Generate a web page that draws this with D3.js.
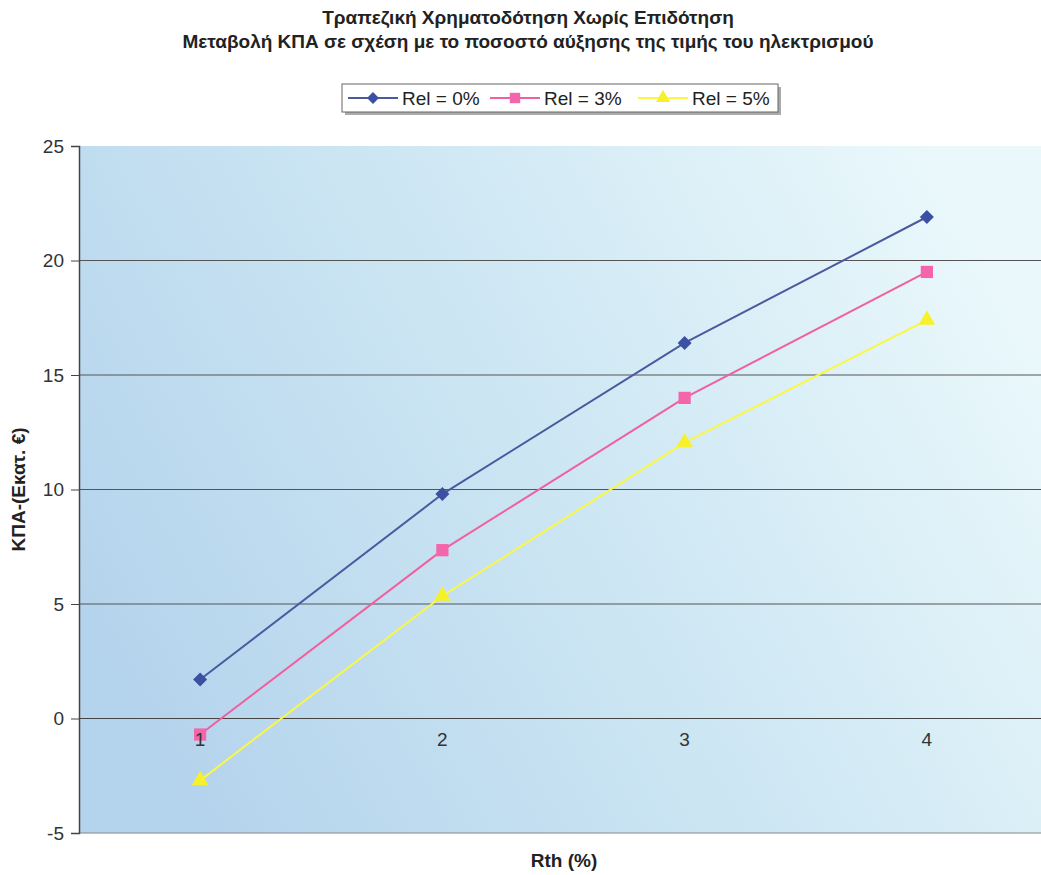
<!DOCTYPE html>
<html><head><meta charset="utf-8">
<script src="https://cdn.jsdelivr.net/npm/d3@7"></script>
<style>body{margin:0;background:#fff;} svg{display:block;font-family:"Liberation Sans",Arial,sans-serif;}</style>
</head><body>
<script>
const categories = ["1","2","3","4"];
const seriesNames = ["Rel = 0%","Rel = 3%","Rel = 5%"];
const rel0 = [1.7, 9.8, 16.4, 21.9];
const rel3 = [-0.7, 7.35, 14.0, 19.5];
const rel5 = [-2.7, 5.35, 12.05, 17.4];
const yTicks = [-5,0,5,10,15,20,25];
const titleLines = ["Τραπεζική Χρηματοδότηση Χωρίς Επιδότηση","Μεταβολή ΚΠΑ σε σχέση με το ποσοστό αύξησης της τιμής του ηλεκτρισμού"];
const yTitle = "ΚΠΑ-(Εκατ. €)";
const xTitle = "Rth (%)";

const W=1041,H=875;
const m={left:79,top:146,right:-7,bottom:42};
const svg=d3.select("body").append("svg").attr("width",W).attr("height",H);
const defs=svg.append("defs");
const g1=defs.append("linearGradient").attr("id","bg").attr("x1","0").attr("y1","0.7").attr("x2","1").attr("y2","0.3");
g1.append("stop").attr("offset","0").attr("stop-color","#b4d3ec");
g1.append("stop").attr("offset","0.55").attr("stop-color","#cfe8f4");
g1.append("stop").attr("offset","1").attr("stop-color","#eaf8fb");

const x=d3.scaleBand().domain(categories).range([m.left,W-m.right]);
const y=d3.scaleLinear().domain([-5,25]).range([H-m.bottom,m.top]);

svg.append("rect").attr("x",m.left).attr("y",m.top).attr("width",W-m.right-m.left).attr("height",y(-5)-m.top).attr("fill","url(#bg)");

// grid
svg.append("g").selectAll("line").data(yTicks.filter(d=>d>-5&&d<25)).join("line")
  .attr("x1",m.left).attr("x2",W).attr("y1",d=>y(d)).attr("y2",d=>y(d))
  .attr("stroke",d=>d===0?"#444":"#555").attr("stroke-width",1.2);
svg.append("line").attr("x1",m.left).attr("x2",W).attr("y1",y(-5)).attr("y2",y(-5)).attr("stroke","#888").attr("stroke-width",1);

// y axis
const ya=svg.append("g").attr("transform",`translate(${m.left},0)`)
  .call(d3.axisLeft(y).tickValues(yTicks).tickSize(8).tickPadding(7).tickFormat(d=>String(d)));
ya.select(".domain").attr("stroke","#444").attr("stroke-width",1.5);
ya.selectAll(".tick line").attr("stroke","#444");
ya.selectAll("text").attr("font-size",19).attr("fill","#333");

const series=[
  {name:seriesNames[0],vals:rel0,line:"#4b5a9e",mk:"#3b50a3",shape:"diamond",size:14},
  {name:seriesNames[1],vals:rel3,line:"#f0609e",mk:"#f466ac",shape:d3.symbolSquare,size:150},
  {name:seriesNames[2],vals:rel5,line:"#fbf742",mk:"#f6f12a",shape:d3.symbolTriangle,size:120}
];
function mark(s,scale){
  if(s.shape==="diamond"){const r=s.size/2*scale;return `M0,${-r}L${r},0L0,${r}L${-r},0Z`;}
  return d3.symbol().type(s.shape).size(s.size*scale*scale)();
}
const lineGen=d3.line().x((d,i)=>x(categories[i])+x.bandwidth()/2).y(d=>y(d));
series.forEach(s=>{
  svg.append("path").datum(s.vals).attr("d",lineGen).attr("fill","none").attr("stroke",s.line).attr("stroke-width",2);
  svg.append("g").selectAll("path").data(s.vals).join("path")
    .attr("transform",(d,i)=>`translate(${x(categories[i])+x.bandwidth()/2},${y(d)})`)
    .attr("d",mark(s,1)).attr("fill",s.mk);
});

// x axis at zero (labels on top)
const xa=svg.append("g").attr("transform",`translate(0,${y(0)})`)
  .call(d3.axisBottom(x).tickSize(0).tickPadding(14));
xa.select(".domain").remove();
xa.selectAll("text").attr("font-size",19).attr("fill","#333");

// titles
svg.append("g").selectAll("text").data(titleLines).join("text")
  .attr("x",528).attr("y",(d,i)=>24+i*24).attr("text-anchor","middle")
  .attr("font-size",19).attr("font-weight","bold").attr("fill","#222").text(d=>d);

svg.append("text").attr("transform",`translate(25,${(m.top+y(-5))/2}) rotate(-90)`)
  .attr("text-anchor","middle").attr("font-size",19).attr("font-weight","bold").attr("fill","#222").text(yTitle);
svg.append("text").attr("x",564).attr("y",867).attr("text-anchor","middle")
  .attr("font-size",19).attr("font-weight","bold").attr("fill","#222").text(xTitle);

// legend
const lg=svg.append("g");
lg.append("rect").attr("x",345).attr("y",87).attr("width",436).attr("height",28).attr("fill","#aaa");
lg.append("rect").attr("x",342).attr("y",84).attr("width",436).attr("height",28).attr("fill","#fff").attr("stroke","#666").attr("stroke-width",1);
const lx=[348,490,638];
series.forEach((s,i)=>{
  const gx=lx[i], gy=98;
  lg.append("line").attr("x1",gx).attr("x2",gx+50).attr("y1",gy).attr("y2",gy).attr("stroke",s.line).attr("stroke-width",2);
  lg.append("path").attr("transform",`translate(${gx+25},${gy})`).attr("d",mark(s,0.85)).attr("fill",s.mk);
  lg.append("text").attr("x",gx+54).attr("y",gy+7).attr("font-size",19).attr("fill","#222").text(s.name);
});
</script>
</body></html>
